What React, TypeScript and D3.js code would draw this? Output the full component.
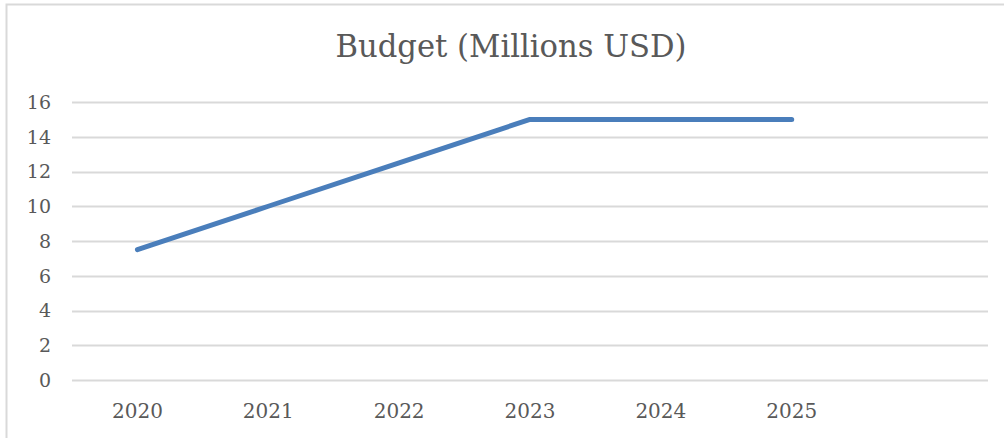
import React, { useEffect, useRef } from 'react';
import * as d3 from 'd3';

const years = ['2020', '2021', '2022', '2023', '2024', '2025', ''];
const budget = [7.5, 10, 12.5, 15, 15, 15];
const yTicks = [0, 2, 4, 6, 8, 10, 12, 14, 16];

const FONT = '"DejaVu Serif", "Liberation Serif", serif';

const App: React.FC = () => {
  const svgRef = useRef<SVGSVGElement>(null);

  useEffect(() => {
    if (!svgRef.current) return;
    const svg = d3.select(svgRef.current);
    svg.selectAll('*').remove();

    const width = 1004;
    const height = 438;
    const margin = { top: 102, right: 16, bottom: 58, left: 72 };

    // chart frame (only top and left edges fall inside the picture)
    svg.append('rect')
      .attr('x', 6.5).attr('y', 4.5)
      .attr('width', width + 20).attr('height', height + 20)
      .attr('fill', '#fff')
      .attr('stroke', '#d9d9d9')
      .attr('stroke-width', 2);

    const x = d3.scaleBand<string>()
      .domain(years.map((d, i) => d || `_${i}`))
      .range([margin.left, width - margin.right]);

    const y = d3.scaleLinear()
      .domain([0, 16])
      .range([height - margin.bottom, margin.top]);

    // gridlines
    svg.append('g')
      .selectAll('line')
      .data(yTicks)
      .join('line')
      .attr('x1', margin.left)
      .attr('x2', width - margin.right)
      .attr('y1', d => Math.round(y(d)) + 0.5)
      .attr('y2', d => Math.round(y(d)) + 0.5)
      .attr('stroke', '#d9d9d9')
      .attr('stroke-width', 2);

    // y labels
    svg.append('g')
      .selectAll('text')
      .data(yTicks)
      .join('text')
      .attr('x', 51)
      .attr('y', d => y(d))
      .attr('dy', '0.36em')
      .attr('text-anchor', 'end')
      .attr('font-family', FONT)
      .attr('font-size', 19)
      .attr('fill', '#595959')
      .text(d => d);

    // x labels
    svg.append('g')
      .selectAll('text')
      .data(years)
      .join('text')
      .attr('x', (d, i) => (x(d || `_${i}`) ?? 0) + x.bandwidth() / 2)
      .attr('y', 418)
      .attr('text-anchor', 'middle')
      .attr('font-family', FONT)
      .attr('font-size', 20)
      .attr('fill', '#595959')
      .text(d => d);

    // line
    const line = d3.line<number>()
      .x((d, i) => (x(years[i]) ?? 0) + x.bandwidth() / 2)
      .y(d => y(d));

    svg.append('path')
      .datum(budget)
      .attr('d', line)
      .attr('fill', 'none')
      .attr('stroke', '#4a7ebb')
      .attr('stroke-width', 5)
      .attr('stroke-linecap', 'round')
      .attr('stroke-linejoin', 'round');

    // title
    svg.append('text')
      .attr('x', 511)
      .attr('y', 57)
      .attr('text-anchor', 'middle')
      .attr('font-family', FONT)
      .attr('font-size', 31)
      .attr('textLength', 351)
      .attr('lengthAdjust', 'spacingAndGlyphs')
      .attr('fill', '#595959')
      .text('Budget (Millions USD)');
  }, []);

  return (
    <svg
      ref={svgRef}
      width={1004}
      height={438}
      style={{ position: 'absolute', left: 0, top: 0, background: '#fff' }}
    />
  );
};

export default App;
